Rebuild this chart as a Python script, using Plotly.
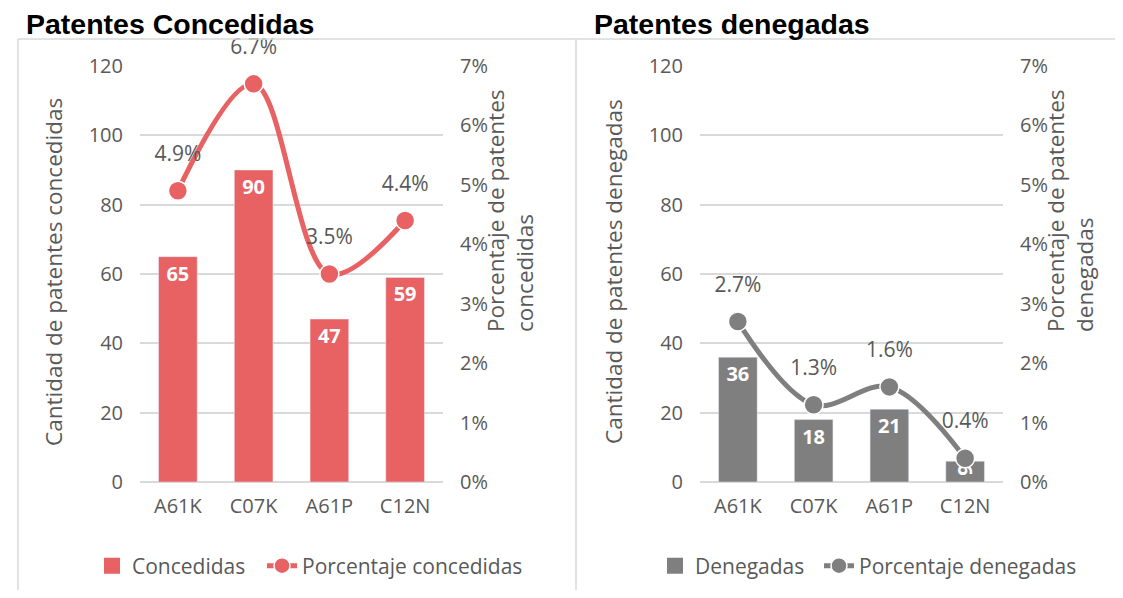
import plotly.graph_objects as go

# -----------------------------------------------------------------------------
# Data
# -----------------------------------------------------------------------------
categories = ['A61K', 'C07K', 'A61P', 'C12N']

concedidas = [65, 90, 47, 59]
pct_concedidas = [0.049, 0.067, 0.035, 0.044]

denegadas = [36, 18, 21, 6]
pct_denegadas = [0.027, 0.013, 0.016, 0.004]

# -----------------------------------------------------------------------------
# Style
# -----------------------------------------------------------------------------
# the page body has an 8px margin, so the figure is 16px smaller than the window
# and every position below is given in window pixels, then shifted by OFF
W, H = 1123, 598
OFF = 8
FW, FH = W - 2 * OFF, H - 2 * OFF
RED = '#E86163'
GRAY = '#7F7F7F'
TXT = '#595959'
GRID = '#D9D9D9'
FONT = 'Open Sans'
FS_TICK = 20
FS_LEG = 21
FS_LBL = 21
FS_AXT = 22.5


def px_x(v):
    return (v - OFF) / FW


def px_y(v):
    return 1 - (v - OFF) / FH


def fmt_pct(vals):
    return [f'{v * 100:.1f}%' for v in vals]


fig = go.Figure()


def add_panel(counts, pcts, name_bar, name_line, color, xa, ya, ya2, leg_bar, leg_line):
    fig.add_trace(go.Bar(
        x=categories, y=counts, marker_color=color, width=0.51,
        text=[str(v) for v in counts], textposition='inside', insidetextanchor='end',
        textfont=dict(color='white', size=20, family=FONT, weight='bold'),
        constraintext='none', cliponaxis=False,
        showlegend=False, xaxis=xa, yaxis=ya, hoverinfo='skip'))
    # legend-only square for the bars (bigger than plotly's default bar icon)
    fig.add_trace(go.Scatter(
        x=[None], y=[None], mode='markers', name=name_bar,
        marker=dict(symbol='square', size=18, color=color),
        xaxis=xa, yaxis=ya, legend=leg_bar))
    fig.add_trace(go.Scatter(
        x=categories, y=pcts, mode='lines+markers', name=name_line,
        line=dict(color=color, width=5, shape='spline', smoothing=1.0),
        marker=dict(size=19, color=color, line=dict(color='white', width=1.5)),
        xaxis=xa, yaxis=ya2, legend=leg_line))
    # percentage labels, sat a bit higher above the points than plotly's default
    fig.add_trace(go.Scatter(
        x=categories, y=pcts, mode='markers+text', showlegend=False, hoverinfo='skip',
        marker=dict(size=38, color='rgba(0,0,0,0)'),
        text=fmt_pct(pcts), textposition='top center',
        textfont=dict(color=TXT, size=FS_LBL, family=FONT), cliponaxis=False,
        xaxis=xa, yaxis=ya2))


add_panel(concedidas, pct_concedidas, 'Concedidas', 'Porcentaje concedidas', RED,
          'x', 'y', 'y2', 'legend', 'legend3')
add_panel(denegadas, pct_denegadas, 'Denegadas', 'Porcentaje denegadas', GRAY,
          'x2', 'y3', 'y4', 'legend2', 'legend4')

tickfont = dict(size=FS_TICK, color=TXT, family=FONT)
ydom = [px_y(482), px_y(66)]
xcommon = dict(showgrid=False, showline=False, zeroline=False, ticks='outside', ticklen=6,
               tickcolor='rgba(0,0,0,0)', tickfont=tickfont,
               range=[-0.5, 3.5], automargin=False)
ycount = dict(range=[0, 120], dtick=20, showgrid=True, gridcolor=GRID, gridwidth=2,
              zeroline=True, zerolinecolor=GRID, zerolinewidth=2, showline=False,
              ticks='outside', ticklen=12, tickcolor='rgba(0,0,0,0)',
              tickfont=tickfont, domain=ydom, automargin=False)
ypct = dict(range=[0, 0.07], dtick=0.01, tickformat='.0%', showgrid=False, zeroline=False,
            showline=False, ticks='outside', ticklen=12, tickcolor='rgba(0,0,0,0)',
            tickfont=tickfont, side='right', automargin=False)

legend_common = dict(orientation='h', yanchor='middle', xanchor='left', y=px_y(566),
                     font=dict(size=FS_LEG, color=TXT, family=FONT),
                     bgcolor='rgba(0,0,0,0)')

fig.update_layout(
    width=FW, height=FH, margin=dict(l=0, r=0, t=0, b=0, autoexpand=False),
    paper_bgcolor='white', plot_bgcolor='white',
    font=dict(family=FONT, size=FS_TICK, color=TXT),
    barmode='group',
    xaxis=dict(domain=[px_x(140), px_x(443)], anchor='y', **xcommon),
    yaxis=dict(anchor='x', **ycount),
    yaxis2=dict(anchor='x', overlaying='y', **ypct),
    xaxis2=dict(domain=[px_x(700), px_x(1003)], anchor='y3', **xcommon),
    yaxis3=dict(anchor='x2', **ycount),
    yaxis4=dict(anchor='x2', overlaying='y3', **ypct),
    legend=dict(x=px_x(92), **legend_common),
    legend3=dict(x=px_x(262), **legend_common),
    legend2=dict(x=px_x(655), **legend_common),
    legend4=dict(x=px_x(819), **legend_common),
)

# panel frames
for shp in [
    dict(x0=18, x1=18, y0=39, y1=H),
    dict(x0=576, x1=576, y0=39, y1=H),
    dict(x0=18, x1=W, y0=39, y1=39),
]:
    fig.add_shape(type='line', xref='paper', yref='paper',
                  x0=px_x(shp['x0']), x1=px_x(shp['x1']),
                  y0=px_y(shp['y0']), y1=px_y(shp['y1']),
                  line=dict(color=GRID, width=1.5))

# titles and axis titles
annotations = [
    dict(text='<b>Patentes Concedidas</b>', x=24, y=24, xanchor='left', size=28.5, angle=0,
         family='Liberation Sans', color='black'),
    dict(text='<b>Patentes denegadas</b>', x=592, y=24, xanchor='left', size=28.5, angle=0,
         family='Liberation Sans', color='black'),
    dict(text='Cantidad de patentes concedidas', x=54, y=272, xanchor='center', size=FS_AXT,
         angle=-90, family=FONT, color=TXT),
    dict(text='Cantidad de patentes denegadas', x=614, y=272, xanchor='center', size=FS_AXT,
         angle=-90, family=FONT, color=TXT),
    dict(text='Porcentaje de patentes<br>concedidas', x=510, y=211, xanchor='center', size=FS_AXT,
         angle=-90, family=FONT, color=TXT),
    dict(text='Porcentaje de patentes<br>denegadas', x=1070, y=211, xanchor='center', size=FS_AXT,
         angle=-90, family=FONT, color=TXT),
]
for a in annotations:
    fig.add_annotation(text=a['text'], xref='paper', yref='paper',
                       x=px_x(a['x']), y=px_y(a['y']), xanchor=a['xanchor'], yanchor='middle',
                       textangle=a['angle'], showarrow=False, align='left',
                       font=dict(size=a['size'], family=a['family'], color=a['color']))

fig.write_html('out.html')
